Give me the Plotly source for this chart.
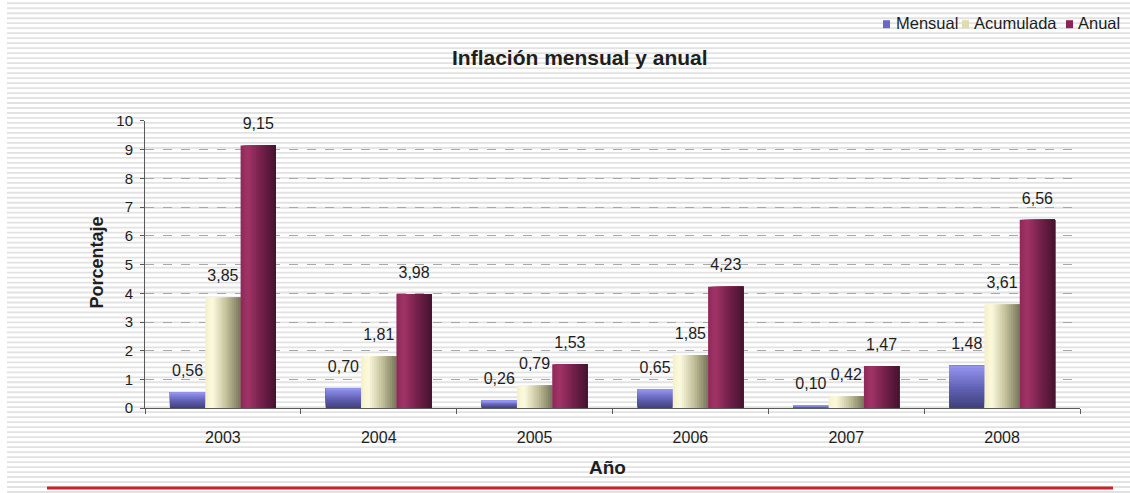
import numpy as np
import plotly.graph_objects as go

# ---- data -------------------------------------------------------------
years = ["2003", "2004", "2005", "2006", "2007", "2008"]
mensual = [0.56, 0.70, 0.26, 0.65, 0.10, 1.48]
acumulada = [3.85, 1.81, 0.79, 1.85, 0.42, 3.61]
anual = [9.15, 3.98, 1.53, 4.23, 1.47, 6.56]
series_names = ["Mensual", "Acumulada", "Anual"]
y_ticks = list(range(0, 11))

# ---- styling ------------------------------------------------------------
W, H = 1130, 501
VS, VT = 0.9686, 8.0     # vertical scale / top offset of the page viewport
FONT = "Liberation Sans, Arial, sans-serif"
TXT = "#1e1e1e"
AX = "#5a5a5a"


def px(x):
    return x / W


def py(y):
    return 1 - (y / VS - VT) / H


# plot area in screen pixels
PX_L, PX_R, PX_T, PX_B = 145, 1080, 120, 408

GROUP_START = -0.34      # left edge of first bar relative to category centre
BAR_W = 0.2267           # width of each bar in category units
N_SLICES = 16            # slices used to draw colour gradients

# gradient stops (position, hex)
grad_mensual = [(0.0, "#3f3f7c"), (0.5, "#6464b8"), (1.0, "#9696f2")]      # bottom -> top
grad_acum = [(0.0, "#f3efc8"), (0.2, "#fdfbdf"), (0.6, "#c2c09a"), (1.0, "#76765a")]  # left -> right
grad_anual = [(0.0, "#8c2858"), (0.2, "#a23466"), (0.6, "#72204a"), (1.0, "#46132e")]  # left -> right
legend_colors = ["#6a6ac4", "#dedcb0", "#8a2555"]


def hex2rgb(h):
    h = h.lstrip("#")
    return np.array([int(h[i:i + 2], 16) for i in (0, 2, 4)], dtype=float)


def color_at(stops, t):
    for (p0, c0), (p1, c1) in zip(stops[:-1], stops[1:]):
        if p0 <= t <= p1:
            f = (t - p0) / (p1 - p0) if p1 > p0 else 0
            c = hex2rgb(c0) * (1 - f) + hex2rgb(c1) * f
            return "rgb({},{},{})".format(*[int(round(v)) for v in c])
    return stops[-1][1]


idx = np.arange(len(years))
fig = go.Figure()

# Mensual: vertical gradient; each layer runs from its base up to the full value
m = np.array(mensual)
x_m = idx + GROUP_START + BAR_W / 2
for k in range(N_SLICES):
    fig.add_trace(go.Bar(
        x=x_m, y=m * (1 - k / N_SLICES), base=m * k / N_SLICES, width=BAR_W,
        marker=dict(color=color_at(grad_mensual, (k + 0.5) / N_SLICES), line=dict(width=0)),
        showlegend=False, hoverinfo="skip",
    ))

# Acumulada / Anual: horizontal gradients; each layer runs to the bar's right edge
for s, (vals, stops) in enumerate([(acumulada, grad_acum), (anual, grad_anual)], start=1):
    left = idx + GROUP_START + s * BAR_W
    sw = BAR_W / N_SLICES
    for k in range(N_SLICES):
        wk = BAR_W - k * sw
        fig.add_trace(go.Bar(
            x=left + k * sw + wk / 2, y=vals, width=wk,
            marker=dict(color=color_at(stops, (k + 0.5) / N_SLICES), line=dict(width=0)),
            showlegend=False, hoverinfo="skip",
        ))

# value labels above each bar
for s, vals in enumerate([mensual, acumulada, anual]):
    fig.add_trace(go.Scatter(
        x=idx + GROUP_START + (s + 0.5) * BAR_W, y=vals,
        mode="markers+text",
        marker=dict(size=18, color="rgba(0,0,0,0)"),
        text=[f"{v:.2f}".replace(".", ",") for v in vals],
        textposition="top center",
        textfont=dict(family=FONT, size=16, color=TXT),
        showlegend=False, hoverinfo="skip", cliponaxis=False,
    ))

# ---- decoration: striped page background ------------------------------
segs = []
for yy in range(2, 493, 5):
    segs.append(f"M{px(7):.5f},{py(yy):.5f} L1,{py(yy):.5f}")
shapes = [
    dict(type="path", path=" ".join(segs), xref="paper", yref="paper",
         line=dict(color="#e2e2e2", width=1.8), layer="below"),
    dict(type="line", xref="paper", yref="paper",
         x0=px(47), x1=px(1113), y0=py(488), y1=py(488),
         line=dict(color="#c8222c", width=3)),
]

# compact legend (square swatch + label)
legend_items = [(883, 894), (962, 972), (1066, 1076)]
annotations = []
for (sx, tx), name, col in zip(legend_items, series_names, legend_colors):
    shapes.append(dict(type="rect", xref="paper", yref="paper",
                       x0=px(sx), x1=px(sx + 7), y0=py(27), y1=py(19),
                       fillcolor=col, line=dict(width=0)))
    annotations.append(dict(text=name, xref="paper", yref="paper",
                            x=px(tx), y=py(22), xanchor="left", yanchor="middle",
                            showarrow=False, font=dict(family=FONT, size=16.5, color=TXT)))

annotations += [
    dict(text="<b>Inflación mensual y anual</b>", xref="paper", yref="paper",
         x=px(580), y=py(56), xanchor="center", yanchor="middle", showarrow=False,
         font=dict(family=FONT, size=21, color=TXT)),
    dict(text="<b>Porcentaje</b>", xref="paper", yref="paper",
         x=px(97), y=py(262), xanchor="center", yanchor="middle", showarrow=False,
         textangle=-90, font=dict(family=FONT, size=18, color=TXT)),
    dict(text="<b>Año</b>", xref="paper", yref="paper",
         x=px(607), y=py(467), xanchor="center", yanchor="middle", showarrow=False,
         font=dict(family=FONT, size=19, color=TXT)),
]

fig.update_layout(
    width=W, height=H,
    margin=dict(l=0, r=0, t=0, b=0),
    paper_bgcolor="white",
    plot_bgcolor="rgba(0,0,0,0)",
    barmode="overlay",
    showlegend=False,
    shapes=shapes,
    annotations=annotations,
    font=dict(family=FONT, color=TXT),
    xaxis=dict(
        domain=[px(PX_L), px(PX_R)],
        range=[-0.5, len(years) - 0.5],
        tickmode="array", tickvals=idx, ticktext=years,
        ticks="outside", ticklen=0,
        minor=dict(ticks="outside", ticklen=5, tickcolor=AX, tickmode="linear",
                   tick0=-0.5, dtick=1, showgrid=False),
        showgrid=False, zeroline=False,
        showline=True, linecolor=AX, linewidth=1,
        tickfont=dict(family=FONT, size=16, color=TXT),
        ticklabelstandoff=15,
        fixedrange=True,
    ),
    yaxis=dict(
        domain=[py(PX_B), py(PX_T)],
        range=[0, 10],
        tickmode="array", tickvals=y_ticks,
        ticks="outside", ticklen=4, tickcolor=AX,
        showgrid=True, gridcolor="#a8a8a8", griddash="dash", gridwidth=1,
        zeroline=False,
        showline=True, linecolor=AX, linewidth=1,
        tickfont=dict(family=FONT, size=15, color=TXT),
        ticklabelstandoff=4,
        fixedrange=True,
    ),
)

fig.write_html("out.html")
